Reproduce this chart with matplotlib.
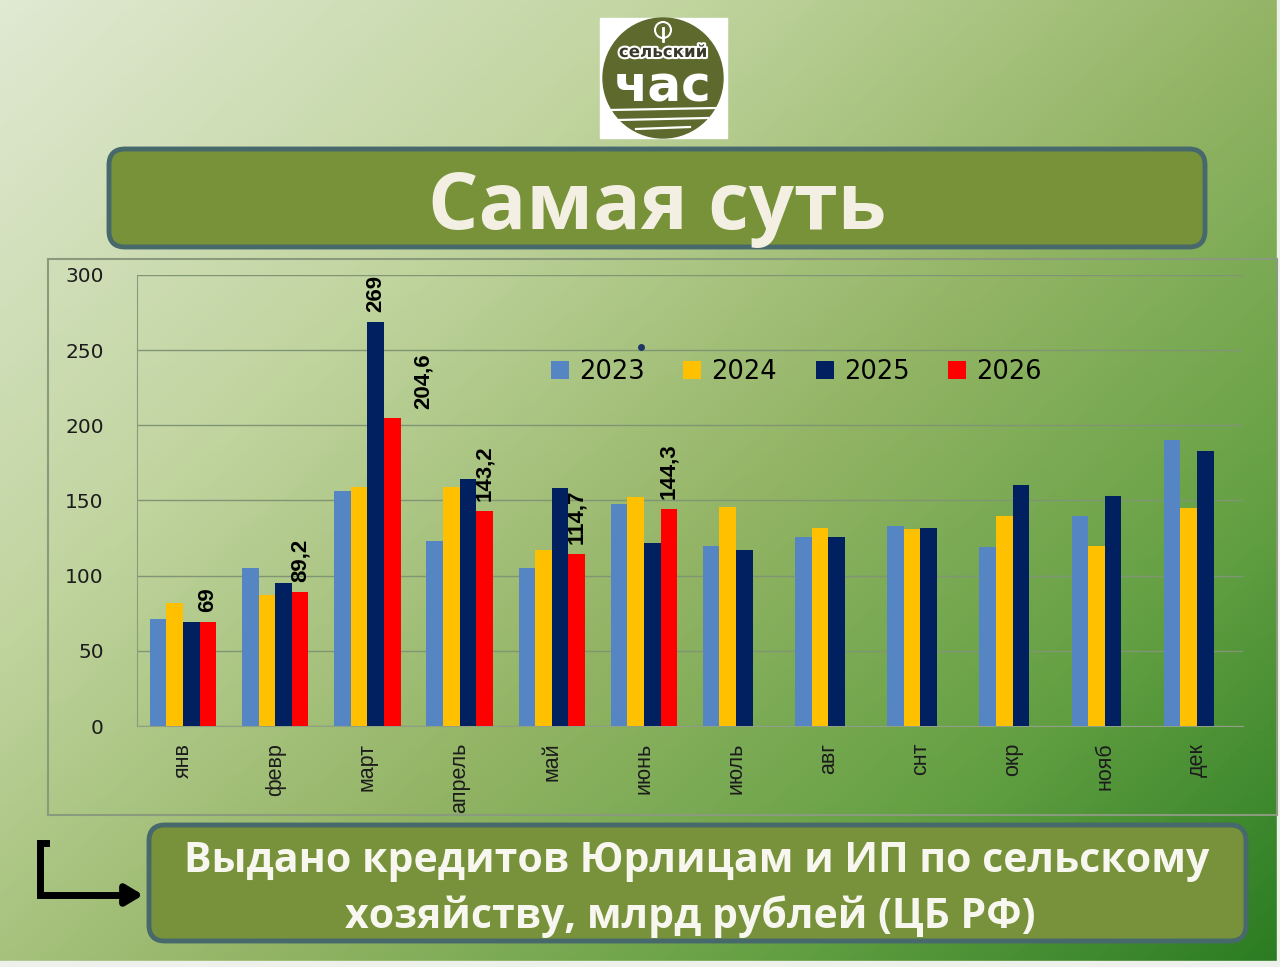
import matplotlib.pyplot as plt
import numpy as np
from matplotlib.colors import LinearSegmentedColormap
from matplotlib.patches import FancyBboxPatch, Rectangle, Circle
import matplotlib.patheffects as pe

months = ["янв", "февр", "март", "апрель", "май", "июнь",
          "июль", "авг", "снт", "окр", "нояб", "дек"]
years = ["2023", "2024", "2025", "2026"]
v2023 = [71, 105, 156, 123, 105, 148, 120, 126, 133, 119, 140, 190]
v2024 = [82, 87, 159, 159, 117, 152, 146, 132, 131, 140, 120, 145]
v2025 = [69, 95, 269, 164, 158, 122, 117, 126, 132, 160, 153, 183]
v2026 = [69.5, 89.2, 204.6, 143.2, 114.7, 144.3]
series = [v2023, v2024, v2025, v2026]
colors = ["#5585c2", "#ffc000", "#002060", "#ff0000"]

# which bars get a value label: (month index, series index, text)
labels = [(0, 3, "69"), (1, 3, "89,2"), (2, 2, "269"), (2, 3, "204,6"),
          (3, 3, "143,2"), (4, 3, "114,7"), (5, 3, "144,3")]

W, H = 1280, 967
fig = plt.figure(figsize=(W / 100, H / 100), dpi=100)

# background layer in pixel coordinates
bg = fig.add_axes([0, 0, 1, 1])
bg.set_xlim(0, W)
bg.set_ylim(H, 0)
bg.axis("off")
gx, gy = np.meshgrid(np.linspace(0, 1, 256), np.linspace(0, 1, 200))
grad = gx * 0.55 + gy * 0.45
cmap = LinearSegmentedColormap.from_list(
    "bg", [(0, "#e0e9d2"), (0.3, "#c0d49e"), (0.55, "#94b566"),
           (0.78, "#64a043"), (1, "#2a7c22")])
bg.imshow(grad, cmap=cmap, extent=(0, W, H, 0), aspect="auto", zorder=0)
bg.add_patch(Rectangle((0, 961), W, 6, color="#eef0ec", zorder=1))
bg.add_patch(Rectangle((1277, 0), 3, H, color="#eef0ec", zorder=1))

# logo
bg.add_patch(Rectangle((600, 18), 127, 120, color="white", zorder=2))
bg.add_patch(Circle((663, 78), 60, color="#5e6a2d", zorder=3))
bg.add_patch(Circle((663, 30), 8, fill=False, ec="white", lw=1.5, zorder=4))
bg.plot([663, 663], [28, 41], color="white", lw=2, zorder=4)
bg.text(663, 52, "сельский", ha="center", va="center", fontsize=12,
        fontweight="bold", color="#3a3a2a", family="DejaVu Sans",
        path_effects=[pe.withStroke(linewidth=3, foreground="white")], zorder=5)
bg.text(663, 88, "час", ha="center", va="center", fontsize=36,
        fontweight="bold", color="white", family="DejaVu Sans", zorder=5)
for y0, x0, x1 in [(110, 610, 716), (120, 618, 708), (129, 636, 690)]:
    bg.plot([x0, x1], [y0, y0 - 2], color="white", lw=1.6, zorder=5)

# title box
bg.add_patch(FancyBboxPatch((109, 149), 1096, 98,
                            boxstyle="round,pad=0,rounding_size=16",
                            fc="#78923a", ec="#47696b", lw=3.5, zorder=2))
bg.text(657, 208, "Самая суть", ha="center", va="center", fontsize=57,
        fontweight="bold", color="#f3f0e3", family="Open Sans", zorder=3)

# chart frame
bg.add_patch(Rectangle((48, 259), 1229, 556, fill=False, ec="#8a9a7c",
                       lw=1.5, zorder=2))

# bottom caption box
bg.add_patch(FancyBboxPatch((149, 825), 1097, 116,
                            boxstyle="round,pad=0,rounding_size=16",
                            fc="#77923a", ec="#47696b", lw=3.5, zorder=2))
bg.text(697, 862, "Выдано кредитов Юрлицам и ИП по сельскому",
        ha="center", va="center", fontsize=29.5, fontweight="bold",
        color="#f7f7f0", family="Open Sans", zorder=3)
bg.text(690, 917, "хозяйству, млрд рублей (ЦБ РФ)",
        ha="center", va="center", fontsize=29.5, fontweight="bold",
        color="#f7f7f0", family="Open Sans", zorder=3)

# arrow
bg.plot([46, 40, 40, 125], [843, 843, 895, 895], color="black", lw=5,
        solid_joinstyle="miter", zorder=3)
bg.annotate("", xy=(146, 895), xytext=(118, 895),
            arrowprops=dict(arrowstyle="-|>,head_length=1.0,head_width=0.6",
                            color="black", lw=5), zorder=3)

# the chart itself
ax = fig.add_axes([137 / W, 1 - 726 / H, 1106 / W, 451 / H])
ax.patch.set_alpha(0)
x = np.arange(len(months))
bw = 0.18
for i, (vals, col, yr) in enumerate(zip(series, colors, years)):
    ax.bar(x[:len(vals)] + (i - 1.5) * bw, vals, width=bw, color=col,
           label=yr, zorder=3)

for m, s, txt in labels:
    dx = 0.34 if (m, s) == (2, 3) else 0.0
    ax.text(m + (s - 1.5) * bw + dx, series[s][m] + 6.5, txt, rotation=90,
            ha="center", va="bottom", fontsize=16, fontweight="bold",
            family="Liberation Sans", color="black", zorder=4)

ax.set_xlim(-0.5, 11.5)
ax.set_ylim(0, 300)
ax.set_yticks(np.arange(0, 301, 50))
ax.set_xticks(x)
ax.set_xticklabels(months, rotation=90, fontsize=15.5,
                   family="Liberation Sans", color="#1c1c1c")
ax.tick_params(axis="x", length=0, pad=12)
ax.tick_params(axis="y", length=0, pad=24, labelsize=14.5,
               labelcolor="#1c1c1c")
ax.grid(axis="y", color="#7f9574", lw=1, zorder=1)
for side in ["top", "right"]:
    ax.spines[side].set_visible(False)
ax.spines["left"].set_color("#8a9a7c")
ax.spines["bottom"].set_color("#8fa084")

ax.plot([4.97], [252], "o", color="#1f3864", ms=4, zorder=4)
ax.legend(loc="center", bbox_to_anchor=(0.596, 0.785), ncol=4,
          frameon=False, fontsize=18.5, handlelength=0.7, handleheight=0.7,
          handletextpad=0.4, columnspacing=1.5)

fig.savefig("out.png", dpi=100)
